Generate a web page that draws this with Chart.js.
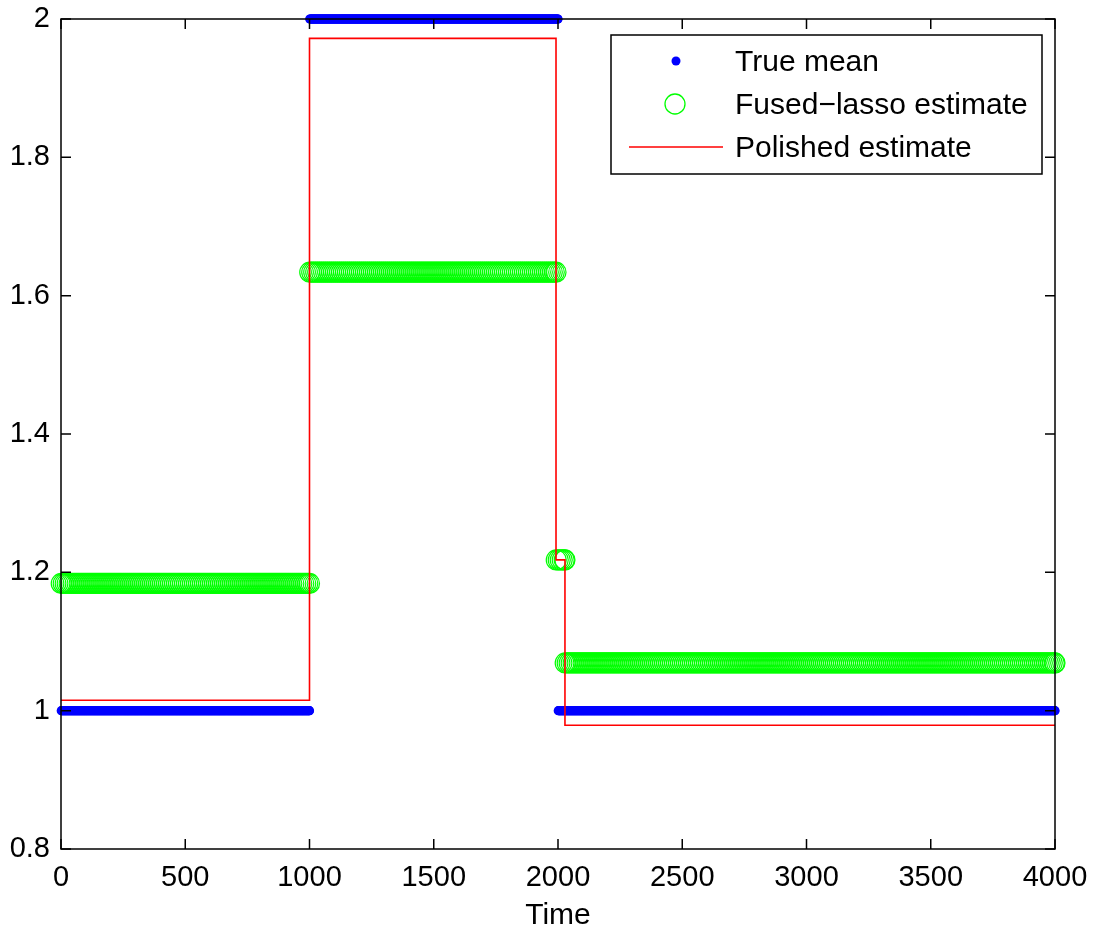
<!DOCTYPE html>
<html>
<head>
<meta charset="utf-8">
<script src="https://cdn.jsdelivr.net/npm/chart.js@4.4.1/dist/chart.umd.min.js"></script>
<style>
    html, body { margin: 0; padding: 0; background: #fff; }
    #wrap { width: 1093px; height: 930px; }
</style>
</head>
<body>
<div id="wrap"><canvas id="chart_one"></canvas></div>
<script>
// ----------------- DATA -----------------
const xTicks = [0, 500, 1000, 1500, 2000, 2500, 3000, 3500, 4000];
const yTicks = [0.8, 1, 1.2, 1.4, 1.6, 1.8, 2];

// piecewise-constant signals: segment edges (time) and the level on each segment
const trueBreaks = [1, 1000, 2000, 4000];
const trueLevels = [1, 2, 1];

const fusedBreaks = [1, 1000, 1992, 2028, 4000];
const fusedLevels = [1.184, 1.634, 1.218, 1.069];

const polishedBreaks = [0, 1000, 1992, 2028, 4000];
const polishedLevels = [1.015, 1.972, 1.218, 0.979];

const legendLabels = ["True mean", "Fused\u2212lasso estimate", "Polished estimate"];

// one marker every `step` samples along each segment
function expand(breaks, levels, step) {
    let pts = [];
    for (let i = 0; i < levels.length; i++) {
        let start = i === 0 ? breaks[0] : breaks[i] + 1;
        let end = breaks[i + 1];
        for (let t = start; t < end; t += step) {
            pts.push({x: t, y: levels[i]});
        }
        pts.push({x: end, y: levels[i]});
    }
    return pts;
}

// stepped line: one vertex per segment start plus the last edge
function stepPoints(breaks, levels) {
    let pts = [];
    for (let i = 0; i < levels.length; i++) {
        pts.push({x: breaks[i], y: levels[i]});
    }
    pts.push({x: breaks[breaks.length - 1], y: levels[levels.length - 1]});
    return pts;
}

const FONT = "'Liberation Sans', Arial, sans-serif";

// ----------------- AXES BOX, INWARD TICKS, LEGEND -----------------
const boxPlugin = {
    id: "boxPlugin",
    afterDatasetsDraw(chart) {
        const ctx = chart.ctx;
        const a = chart.chartArea;
        const xs = chart.scales.x;
        const ys = chart.scales.y;
        const tl = 10;

        ctx.save();
        ctx.strokeStyle = "#000";
        ctx.lineWidth = 1.5;
        ctx.beginPath();
        xTicks.forEach(v => {
            let px = xs.getPixelForValue(v);
            ctx.moveTo(px, a.bottom); ctx.lineTo(px, a.bottom - tl);
            ctx.moveTo(px, a.top); ctx.lineTo(px, a.top + tl);
        });
        yTicks.forEach(v => {
            let py = ys.getPixelForValue(v);
            ctx.moveTo(a.left, py); ctx.lineTo(a.left + tl, py);
            ctx.moveTo(a.right, py); ctx.lineTo(a.right - tl, py);
        });
        ctx.stroke();
        ctx.strokeRect(a.left, a.top, a.right - a.left, a.bottom - a.top);
        ctx.restore();
    },
    afterDraw(chart) {
        const ctx = chart.ctx;
        const bx = 611, by = 35, bw = 431, bh = 139;
        const rows = [61, 104, 147];

        ctx.save();
        ctx.fillStyle = "#fff";
        ctx.fillRect(bx, by, bw, bh);
        ctx.strokeStyle = "#000";
        ctx.lineWidth = 1.5;
        ctx.strokeRect(bx, by, bw, bh);

        // marker samples
        ctx.fillStyle = "#0000ff";
        ctx.beginPath();
        ctx.arc(676, rows[0], 4.5, 0, Math.PI * 2);
        ctx.fill();

        ctx.strokeStyle = "#00ff00";
        ctx.lineWidth = 1.3;
        ctx.beginPath();
        ctx.arc(675, rows[1], 10, 0, Math.PI * 2);
        ctx.stroke();

        ctx.strokeStyle = "#ff0000";
        ctx.lineWidth = 1.5;
        ctx.beginPath();
        ctx.moveTo(629, rows[2]);
        ctx.lineTo(723, rows[2]);
        ctx.stroke();

        ctx.fillStyle = "#000";
        ctx.font = "30px " + FONT;
        ctx.textBaseline = "middle";
        ctx.textAlign = "left";
        legendLabels.forEach((t, i) => ctx.fillText(t, 735, rows[i] + 2));
        ctx.restore();
    }
};

// ----------------- CHART -----------------
var ChartOne = new Chart("chart_one", {
    type: "scatter",
    data: {
        datasets: [{
            label: legendLabels[2],
            type: "line",
            data: stepPoints(polishedBreaks, polishedLevels),
            stepped: true,
            borderColor: "#ff0000",
            borderWidth: 1.6,
            pointRadius: 0,
            fill: false,
            clip: false
        }, {
            label: legendLabels[1],
            data: expand(fusedBreaks, fusedLevels, 8),
            pointStyle: "circle",
            pointRadius: 10,
            pointBorderWidth: 1.2,
            pointBorderColor: "#00ff00",
            pointBackgroundColor: "rgba(0,0,0,0)",
            clip: false
        }, {
            label: legendLabels[0],
            data: expand(trueBreaks, trueLevels, 2),
            pointStyle: "circle",
            pointRadius: 4.6,
            pointBorderWidth: 0,
            pointBackgroundColor: "#0000ff",
            pointBorderColor: "#0000ff",
            clip: false
        }]
    },
    options: {
        responsive: true,
        maintainAspectRatio: false,
        animation: false,
        events: [],
        layout: { padding: { left: 0, top: 19, right: 38, bottom: 0 } },
        plugins: {
            legend: { display: false },
            tooltip: { enabled: false }
        },
        scales: {
            x: {
                type: "linear",
                min: 0,
                max: 4000,
                afterBuildTicks: s => { s.ticks = xTicks.map(v => ({value: v})); },
                afterFit: s => { s.height = 81; s.paddingLeft = 0; s.paddingRight = 0; },
                grid: { display: false, drawTicks: false },
                border: { display: false },
                ticks: {
                    color: "#000",
                    padding: 12,
                    maxRotation: 0,
                    font: { family: FONT, size: 29 },
                    callback: v => String(v)
                },
                title: {
                    display: true,
                    text: "Time",
                    color: "#000",
                    padding: { top: 0, bottom: -4 },
                    font: { family: FONT, size: 30 }
                }
            },
            y: {
                type: "linear",
                min: 0.8,
                max: 2,
                afterBuildTicks: s => { s.ticks = yTicks.map(v => ({value: v})); },
                afterFit: s => { s.width = 61; s.paddingTop = 0; s.paddingBottom = 0; },
                grid: { display: false, drawTicks: false },
                border: { display: false },
                ticks: {
                    color: "#000",
                    padding: 11,
                    font: { family: FONT, size: 29 },
                    callback: v => String(Number(v.toFixed(1)))
                }
            }
        }
    },
    plugins: [boxPlugin]
});
</script>
</body>
</html>
